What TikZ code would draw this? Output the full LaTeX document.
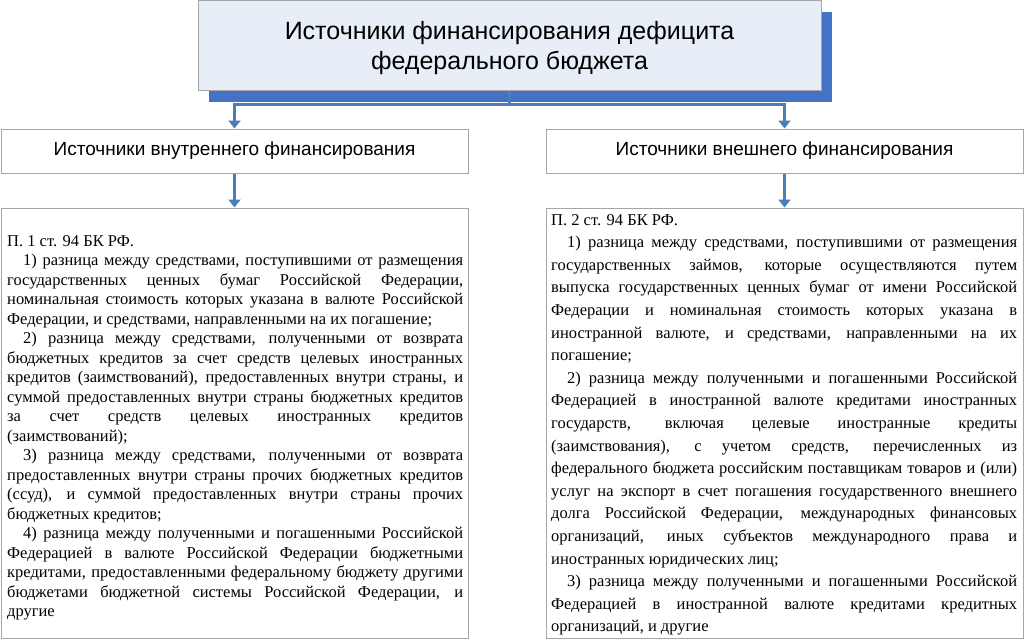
\documentclass[tikz,border=0pt]{standalone}
\usepackage{fontspec}
\setmainfont{Liberation Serif}
\newfontfamily\headfont{Liberation Sans}
\usetikzlibrary{arrows.meta,shadows,calc}
\definecolor{shblue}{HTML}{4472C4}
\definecolor{arblue}{HTML}{4A7EBB}
\definecolor{boxfill}{HTML}{E8EEF8}
\definecolor{boxline}{HTML}{A6A6A6}
\newcommand\JL[1]{\noindent\makebox[\hsize][s]{#1}\par}
\newcommand\LL[1]{\noindent #1\par}
\newcommand\IN{\hspace*{16pt}}
\tikzset{
  titlebox/.style={draw=boxline, line width=1pt, fill=boxfill, minimum width=623pt, minimum height=90pt,
     inner sep=0pt, align=center, font=\headfont\fontsize{25}{30}\selectfont,
     drop shadow={shadow xshift=11pt, shadow yshift=-12pt, fill=shblue, opacity=1}},
  subbox/.style={draw=boxline, line width=1pt, fill=white, minimum height=44pt, inner sep=0pt,
     font=\headfont\fontsize{19}{23}\selectfont},
  framebox/.style={draw=boxline, line width=1pt, fill=white, inner sep=0pt},
  bodytext/.style={inner sep=0pt, anchor=north west, align=justify},
  conn/.style={draw=arblue, line width=2.4pt, -{Triangle[width=12pt,length=8pt]}},
}
\begin{document}
\begin{tikzpicture}[x=1pt,y=-1pt]
\useasboundingbox (0,0) rectangle (1024,640);
\node[titlebox] (top) at (509.5,45) {\raisebox{-3.5pt}[\height][\depth]{\begin{tabular}{@{}c@{}}Источники финансирования дефицита\\федерального бюджета\end{tabular}}};
\node[subbox, minimum width=467pt] (left2) at (234.5,151) {Источники внутреннего финансирования};
\node[subbox, minimum width=477pt] (right2) at (784.5,151) {Источники внешнего финансирования};
\node[framebox, minimum width=467pt, minimum height=430pt] (leftbox) at (234.5,423) {};
\node[framebox, minimum width=477pt, minimum height=430pt] (rightbox) at (784.5,423) {};
\coordinate (junc) at ($(top.south)+(0,14)$);
\draw[conn] (top.south) -- (junc) -| (left2.north);
\draw[conn] (junc) -| (right2.north);
\draw[conn] (left2.south) -- (leftbox.north);
\draw[conn] (right2.south) -- (rightbox.north);
\node[bodytext, text width=456pt] (lefttext) at (7,235) {\fontsize{16.5}{19.5}\selectfont
\LL{П. 1 ст. 94 БК РФ.}
\JL{\IN 1) разница между средствами, поступившими от размещения}
\JL{государственных ценных бумаг Российской Федерации,}
\JL{номинальная стоимость которых указана в валюте Российской}
\LL{Федерации, и средствами, направленными на их погашение;}
\JL{\IN 2) разница между средствами, полученными от возврата}
\JL{бюджетных кредитов за счет средств целевых иностранных}
\JL{кредитов (заимствований), предоставленных внутри страны, и}
\JL{суммой предоставленных внутри страны бюджетных кредитов}
\JL{за счет средств целевых иностранных кредитов}
\LL{(заимствований);}
\JL{\IN 3) разница между средствами, полученными от возврата}
\JL{предоставленных внутри страны прочих бюджетных кредитов}
\JL{(ссуд), и суммой предоставленных внутри страны прочих}
\LL{бюджетных кредитов;}
\JL{\IN 4) разница между полученными и погашенными Российской}
\JL{Федерацией в валюте Российской Федерации бюджетными}
\JL{кредитами, предоставленными федеральному бюджету другими}
\JL{бюджетами бюджетной системы Российской Федерации, и}
\LL{другие}
};
\node[bodytext, text width=466pt] (righttext) at (551,214) {\fontsize{16.5}{22.6}\selectfont
\LL{П. 2 ст. 94 БК РФ.}
\JL{\IN 1) разница между средствами, поступившими от размещения}
\JL{государственных займов, которые осуществляются путем}
\JL{выпуска государственных ценных бумаг от имени Российской}
\JL{Федерации и номинальная стоимость которых указана в}
\JL{иностранной валюте, и средствами, направленными на их}
\LL{погашение;}
\JL{\IN 2) разница между полученными и погашенными Российской}
\JL{Федерацией в иностранной валюте кредитами иностранных}
\JL{государств, включая целевые иностранные кредиты}
\JL{(заимствования), с учетом средств, перечисленных из}
\JL{федерального бюджета российским поставщикам товаров и (или)}
\JL{услуг на экспорт в счет погашения государственного внешнего}
\JL{долга Российской Федерации, международных финансовых}
\JL{организаций, иных субъектов международного права и}
\LL{иностранных юридических лиц;}
\JL{\IN 3) разница между полученными и погашенными Российской}
\JL{Федерацией в иностранной валюте кредитами кредитных}
\LL{организаций, и другие}
};
\end{tikzpicture}
\end{document}
